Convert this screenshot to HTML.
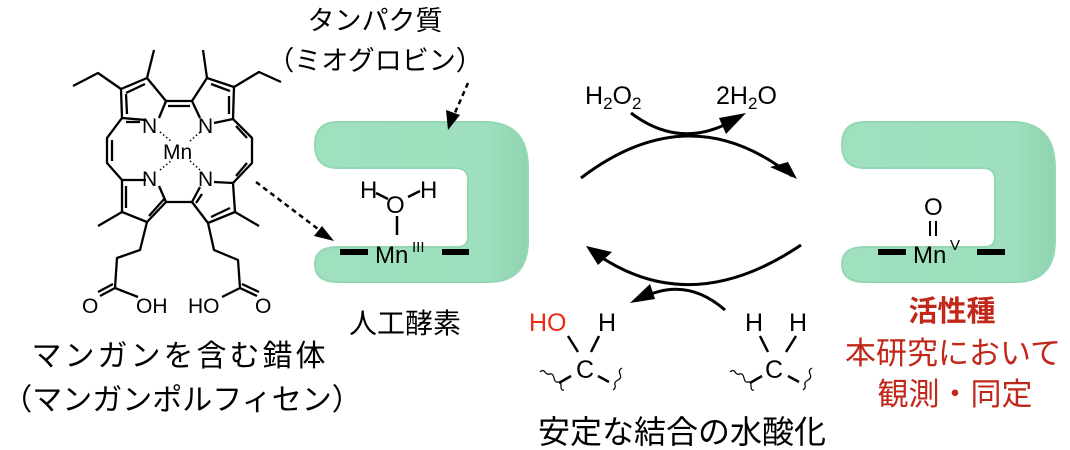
<!DOCTYPE html>
<html><head><meta charset="utf-8"><style>
html,body{margin:0;padding:0;background:#fff;}
svg{display:block;}
text{font-family:"Liberation Sans","Noto Sans CJK JP",sans-serif;fill:#000;}
</style></head><body>
<svg width="1070" height="450" viewBox="0 0 1070 450" xmlns="http://www.w3.org/2000/svg">
<defs>
<linearGradient id="pg" x1="0" x2="1" y1="0" y2="0">
<stop offset="0" stop-color="#9fe0bf"/><stop offset="0.8" stop-color="#9ddfbe"/><stop offset="1" stop-color="#90d3af"/>
</linearGradient>
</defs>
<!-- proteins -->
<g id="prot">
<path d="M338 122 L488 122 Q528 124 528 168 L528 240 Q528 282 488 282 L338 282 Q315 282 315 264 Q315 247 338 247 L458 247 Q468 247 468 236 L468 180 Q468 168 456 168 L338 168 Q315 168 315 145 Q315 122 338 122 Z" fill="url(#pg)" stroke="#94d7b4" stroke-width="2"/>
</g>
<use href="#prot" transform="translate(527,0)"/>
<!-- left Mn center -->
<rect x="340" y="249" width="28" height="6" fill="#000"/>
<rect x="442" y="249" width="27" height="6" fill="#000"/>
<text x="375" y="263" font-size="24">Mn</text>
<text x="412" y="252" font-size="15">III</text>
<text x="360" y="198" font-size="24">H</text>
<text x="386" y="213" font-size="24">O</text>
<text x="420" y="198" font-size="24">H</text>
<g stroke="#000" stroke-width="2.5">
<line x1="376" y1="193" x2="388" y2="199"/><line x1="420" y1="191" x2="408" y2="197"/>
<line x1="397" y1="216" x2="397" y2="235"/>
</g>
<!-- right Mn -->
<rect x="878" y="249" width="28" height="6" fill="#000"/>
<rect x="977" y="249" width="28" height="6" fill="#000"/>
<text x="913" y="263" font-size="24">Mn</text>
<text x="950" y="250" font-size="15">V</text>
<text x="924" y="215" font-size="24">O</text>
<g stroke="#000" stroke-width="2"><line x1="930" y1="221" x2="930" y2="236"/><line x1="936" y1="221" x2="936" y2="236"/></g>

<!-- porphyrin -->
<g stroke="#000" stroke-width="2.3" fill="none" stroke-linejoin="round">
<polyline points="146,120 122,118 121,89 147,78 166,101 159,118"/>
<polyline points="200,118 192,101 207,78 234,87 233,119 214,123"/>
<polyline points="214,182 233,183 235,212 208,223 192,202 200,187"/>
<polyline points="159,186 166,202 147,222 122,212 122,180 146,180"/>
<line x1="166" y1="101" x2="192" y2="101"/><line x1="168" y1="106" x2="190" y2="106"/>
<line x1="166" y1="202" x2="192" y2="202"/>
<polyline points="233,119 252,138 252,163 233,183"/>
<line x1="236" y1="126" x2="247" y2="138"/><line x1="247" y1="163" x2="236" y2="176"/>
<polyline points="122,118 107,138 107,163 122,180"/>
<line x1="112" y1="140" x2="112" y2="161"/>
<line x1="126" y1="93" x2="145" y2="84"/><line x1="127" y1="114" x2="126" y2="94"/>
<line x1="211" y1="84" x2="230" y2="91"/><line x1="229" y1="96" x2="229" y2="114"/>
<line x1="126" y1="208" x2="126" y2="186"/><line x1="149" y1="216" x2="165" y2="198"/>
<line x1="211" y1="217" x2="230" y2="208"/><line x1="196" y1="203" x2="202" y2="194"/>
<line x1="140" y1="122" x2="126" y2="122"/>
<line x1="147" y1="78" x2="154" y2="50"/><polyline points="121,89 98,73 73,86"/>
<line x1="207" y1="78" x2="203" y2="50"/><polyline points="234,87 259,72 281,82"/>
<line x1="122" y1="212" x2="98" y2="226"/><line x1="235" y1="212" x2="259" y2="226"/>
<polyline points="147,222 140,250 117,258 115,288 138,297"/>
<line x1="115" y1="288" x2="100" y2="296"/><line x1="113" y1="284" x2="98" y2="292"/>
<polyline points="208,223 214,250 238,260 240,288 222,297"/>
<line x1="240" y1="288" x2="257" y2="296"/><line x1="242" y1="284" x2="259" y2="292"/>
</g>
<g stroke="#000" stroke-width="1.5" stroke-dasharray="1.5,2.5">
<line x1="160" y1="132" x2="172" y2="142"/><line x1="200" y1="132" x2="189" y2="142"/>
<line x1="160" y1="170" x2="172" y2="160"/><line x1="200" y1="170" x2="189" y2="160"/>
</g>
<text x="142" y="133" font-size="21">N</text>
<text x="198" y="133" font-size="21">N</text>
<text x="142" y="186" font-size="21">N</text>
<text x="198" y="186" font-size="21">N</text>
<text x="163" y="159" font-size="21">Mn</text>
<text x="82" y="313" font-size="21">O</text>
<text x="136" y="313" font-size="21">OH</text>
<text x="188" y="313" font-size="21">HO</text>
<text x="255" y="313" font-size="21">O</text>

<!-- dashed arrows -->
<g stroke="#000" stroke-width="2.5" stroke-dasharray="5,4" fill="none">
<line x1="256" y1="182" x2="322" y2="232"/>
<line x1="468" y1="83" x2="454" y2="115"/>
</g>
<polygon points="334,241 314,236 322,226" fill="#000"/>
<polygon points="448,130 446,110 460,115" fill="#000"/>

<!-- cycle arrows -->
<g stroke="#000" stroke-width="3" fill="none">
<path d="M581 178 Q690 95 792 176"/>
<path d="M631 113 Q680 150 732 121"/>
<path d="M801 245 Q690 320 595 253"/>
<path d="M725 310 Q685 275 640 299"/>
</g>
<polygon points="797,179 770,167 788,162" fill="#000"/>
<polygon points="746,113 726,134 719,118" fill="#000"/>
<polygon points="586,246 612,252 598,265" fill="#000"/>
<polygon points="630,303 650,284 655,299" fill="#000"/>
<text x="585" y="104" font-size="25">H<tspan font-size="17" dy="5">2</tspan><tspan dy="-5">O</tspan><tspan font-size="17" dy="5">2</tspan></text>
<text x="716" y="104" font-size="25">2H<tspan font-size="17" dy="5">2</tspan><tspan dy="-5">O</tspan></text>

<!-- substrates -->
<text x="529" y="331" font-size="25" style="fill:#ee2a10">HO</text>
<text x="598" y="331" font-size="25">H</text>
<text x="576" y="378" font-size="25">C</text>
<text x="745" y="331" font-size="25">H</text>
<text x="789" y="331" font-size="25">H</text>
<text x="765" y="378" font-size="25">C</text>
<g stroke="#000" stroke-width="2.5" fill="none">
<line x1="568" y1="336" x2="578" y2="352"/><line x1="599" y1="336" x2="591" y2="352"/>
<line x1="571" y1="376" x2="559" y2="383"/><line x1="598" y1="376" x2="609" y2="382"/>
<line x1="760" y1="336" x2="768" y2="352"/><line x1="796" y1="336" x2="786" y2="352"/>
<line x1="762" y1="376" x2="750" y2="383"/><line x1="788" y1="376" x2="799" y2="382"/>
</g>
<g stroke="#000" stroke-width="1.2" fill="none">
<path d="M540 372 q3 -3 5 0 t5 2 t4 4 t4 4 t3 4 t3 4"/>
<path d="M622 368 q-4 2 -2 6 t-2 6 t-3 5 t-2 5"/>
<path d="M730 372 q3 -3 5 0 t5 2 t4 4 t4 4 t3 4 t3 4"/>
<path d="M812 368 q-4 2 -2 6 t-2 6 t-3 5 t-2 5"/>
</g>

<!-- labels -->
<text x="375" y="30" font-size="27" text-anchor="middle">タンパク質</text>
<text x="375" y="70" font-size="27" text-anchor="middle">（ミオグロビン）</text>
<text x="405" y="333" font-size="28" text-anchor="middle">人工酵素</text>
<text x="180" y="366" font-size="30" letter-spacing="3" text-anchor="middle">マンガンを含む錯体</text>
<text x="182" y="410" font-size="30" text-anchor="middle">（マンガンポルフィセン）</text>
<text x="682" y="443" font-size="32" text-anchor="middle">安定な結合の水酸化</text>
<text x="952" y="321" font-size="29" font-weight="bold" text-anchor="middle" style="fill:#c0281a">活性種</text>
<text x="953" y="364" font-size="31" text-anchor="middle" style="fill:#c0281a">本研究において</text>
<text x="955" y="405" font-size="31" text-anchor="middle" style="fill:#c0281a">観測・同定</text>
</svg>
</body></html>
